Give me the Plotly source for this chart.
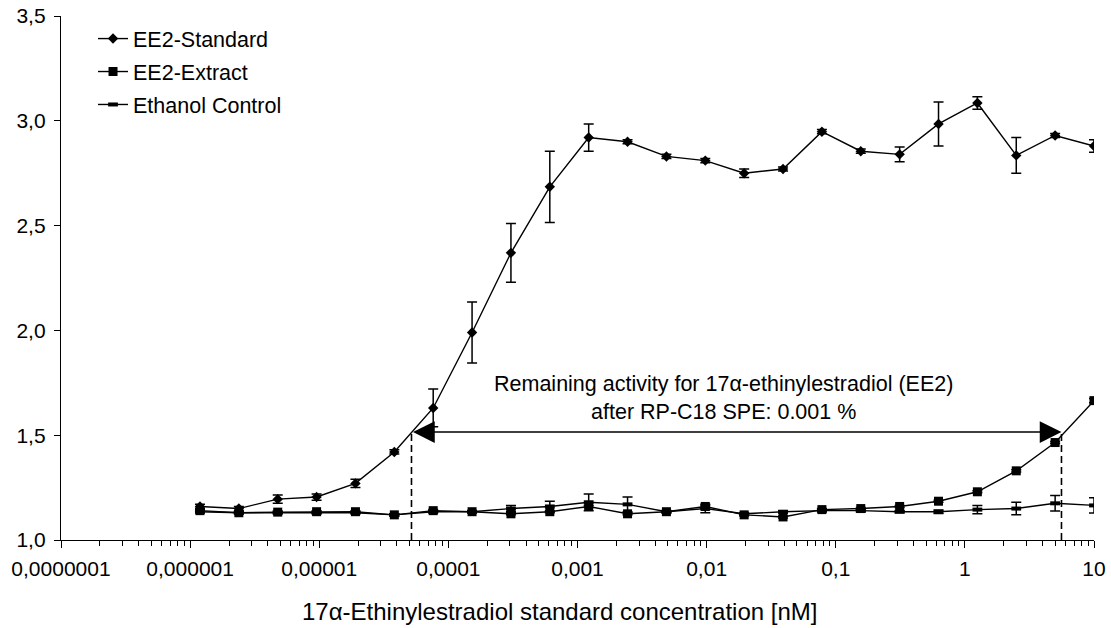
import math
import plotly.graph_objects as go

# Dilution series of the EE2 standard [nM]
conc = [1.1921e-6, 2.3842e-6, 4.7684e-6, 9.5367e-6, 1.9073e-5, 3.8147e-5,
        7.6294e-5, 1.5259e-4, 3.0518e-4, 6.1035e-4, 1.2207e-3, 2.4414e-3,
        4.8828e-3, 9.7656e-3, 0.019531, 0.039063, 0.078125, 0.15625,
        0.3125, 0.625, 1.25, 2.5, 5.0, 10.0]

std_mean = [1.16, 1.15, 1.195, 1.205, 1.27, 1.42, 1.63, 1.99, 2.37, 2.685,
            2.92, 2.90, 2.83, 2.81, 2.75, 2.77, 2.948, 2.855, 2.84, 2.985,
            3.085, 2.835, 2.93, 2.88]
std_err = [0.01, 0.01, 0.02, 0.015, 0.02, 0.01, 0.09, 0.145, 0.14, 0.17,
           0.065, 0.01, 0.01, 0.01, 0.02, 0.01, 0.01, 0.01, 0.035, 0.105,
           0.03, 0.085, 0.01, 0.03]

ext_mean = [1.14, 1.13, 1.133, 1.135, 1.135, 1.12, 1.14, 1.135, 1.125, 1.135,
            1.16, 1.125, 1.135, 1.16, 1.12, 1.11, 1.145, 1.15, 1.16, 1.185,
            1.23, 1.33, 1.465, 1.665]
ext_err = [0.005, 0.005, 0.005, 0.005, 0.005, 0.005, 0.005, 0.005, 0.005,
           0.005, 0.005, 0.005, 0.005, 0.005, 0.005, 0.005, 0.005, 0.005,
           0.005, 0.005, 0.005, 0.005, 0.005, 0.01]

ctl_mean = [1.135, 1.13, 1.13, 1.13, 1.13, 1.12, 1.135, 1.135, 1.15, 1.16,
            1.18, 1.17, 1.135, 1.15, 1.125, 1.135, 1.14, 1.14, 1.135, 1.135,
            1.145, 1.15, 1.175, 1.165]
ctl_err = [0.005, 0.005, 0.005, 0.005, 0.005, 0.005, 0.005, 0.005, 0.015,
           0.025, 0.04, 0.035, 0.005, 0.02, 0.005, 0.005, 0.005, 0.005,
           0.005, 0.008, 0.02, 0.03, 0.037, 0.036]

x_tickvals = [1e-7, 1e-6, 1e-5, 1e-4, 1e-3, 1e-2, 1e-1, 1, 10]
x_ticktext = ["0,0000001", "0,000001", "0,00001", "0,0001", "0,001",
              "0,01", "0,1", "1", "10"]

# Concentrations bracketing the 0.001 % remaining activity
ee2_std_level = 5.18e-5
ee2_ext_level = 5.6
arrow_y = 1.515

FONT = "Liberation Sans, Arial, sans-serif"
BLACK = "#000000"


def err(vals):
    return dict(type="data", array=vals, visible=True, color=BLACK,
                thickness=1.5, width=5)


fig = go.Figure()

fig.add_trace(go.Scatter(
    x=conc, y=std_mean, name="EE2-Standard", mode="lines+markers",
    line=dict(color=BLACK, width=1.4),
    marker=dict(symbol="diamond", size=8, color=BLACK),
    error_y=err(std_err), legendgroup="a"))

fig.add_trace(go.Scatter(
    x=conc, y=ext_mean, name="EE2-Extract", mode="lines+markers",
    line=dict(color=BLACK, width=1.4),
    marker=dict(symbol="square", size=9, color=BLACK),
    error_y=err(ext_err), legendgroup="b"))

fig.add_trace(go.Scatter(
    x=conc, y=ctl_mean, name="Ethanol Control", mode="lines+markers",
    line=dict(color=BLACK, width=1.4),
    marker=dict(symbol="line-ew", size=7, color=BLACK,
                line=dict(color=BLACK, width=4)),
    error_y=err(ctl_err), legendgroup="c"))

# Dashed drop lines from the arrow ends to the x axis
for xv in (ee2_std_level, ee2_ext_level):
    fig.add_trace(go.Scatter(
        x=[xv, xv], y=[1.0, arrow_y], mode="lines", showlegend=False,
        hoverinfo="skip",
        line=dict(color=BLACK, width=1.6, dash="7px,4px")))

fig.add_annotation(
    x=math.log10(ee2_ext_level), y=arrow_y,
    ax=math.log10(ee2_std_level), ay=arrow_y,
    xref="x", yref="y", axref="x", ayref="y",
    text="", showarrow=True, arrowside="end+start",
    arrowhead=2, startarrowhead=2, arrowsize=2.9, startarrowsize=2.9,
    arrowwidth=1.5, arrowcolor=BLACK, standoff=0, startstandoff=0)

fig.add_annotation(
    x=math.log10(0.0134), y=1.676, xref="x", yref="y",
    text="Remaining activity for 17α-ethinylestradiol (EE2)<br>"
         "after RP-C18 SPE: 0.001 %",
    showarrow=False, align="center",
    font=dict(family=FONT, size=21.5, color=BLACK))

# x-axis title
fig.add_annotation(
    x=0.4826, y=-0.1374, xref="paper", yref="paper",
    xanchor="center", yanchor="middle", showarrow=False,
    text="17α-Ethinylestradiol standard concentration [nM]",
    font=dict(family=FONT, size=24, color=BLACK))

fig.update_layout(
    width=1111, height=628,
    margin=dict(l=61, r=17, t=16, b=88),
    paper_bgcolor="white", plot_bgcolor="white",
    separators=", ",
    font=dict(family=FONT, size=21, color=BLACK),
    showlegend=True,
    legend=dict(x=0.031, y=0.996, xanchor="left", yanchor="top",
                bgcolor="rgba(0,0,0,0)", traceorder="grouped",
                tracegroupgap=2, font=dict(family=FONT, size=21.5)),
)

fig.update_xaxes(
    type="log", range=[-7, 1], automargin=False,
    tickvals=x_tickvals, ticktext=x_ticktext, ticklabeloverflow="allow",
    ticklabelstandoff=3,
    showgrid=False, zeroline=False,
    showline=True, linecolor=BLACK, linewidth=1.3,
    ticks="outside", ticklen=7, tickwidth=1.3, tickcolor=BLACK,
    minor=dict(ticks="outside", ticklen=5, tickwidth=1.3,
               tickcolor=BLACK, dtick="D1", showgrid=False),
    tickfont=dict(family=FONT, size=21),
)

fig.update_yaxes(
    range=[1.0, 3.5], dtick=0.5, tick0=1.0, tickformat=".1f",
    automargin=False, ticklabeloverflow="allow", ticklabelstandoff=4,
    showgrid=False, zeroline=False,
    showline=True, linecolor=BLACK, linewidth=1.3,
    ticks="outside", ticklen=6, tickwidth=1.3, tickcolor=BLACK,
    tickfont=dict(family=FONT, size=21),
)

fig.write_html("out.html")
